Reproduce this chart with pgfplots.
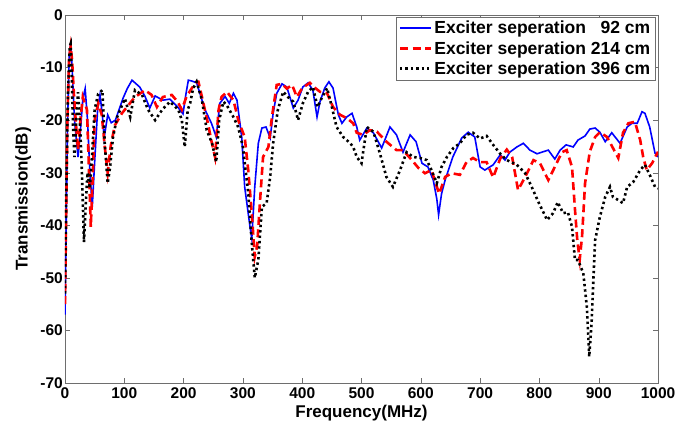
\documentclass[border=0pt]{standalone}
\usepackage{fontspec}
\setmainfont{Liberation Sans}
\usepackage{pgfplots}
\pgfplotsset{compat=1.18}
\definecolor{mblue}{RGB}{0,0,255}
\definecolor{mred}{RGB}{255,0,0}
\definecolor{frame}{RGB}{110,110,110}

\begin{document}
\begin{tikzpicture}
\useasboundingbox (-65pt,-40pt) rectangle (631pt,383pt);
\begin{axis}[
  scale only axis, width=593pt, height=368pt,
  xmin=0, xmax=1000, ymin=-70, ymax=0,
  xtick={0,100,...,1000}, ytick={-70,-60,...,0},
  xticklabels={0,100,200,300,400,500,600,700,800,900,1000},
  yticklabels={-70,-60,-50,-40,-30,-20,-10,0},
  tick align=inside, major tick length=5pt,
  axis line style={frame}, every tick/.style={frame},
  tick label style={font=\fontsize{15.5}{16}\selectfont\bfseries},
  xticklabel style={inner sep=1.5pt, yshift=-3pt},
  yticklabel style={inner sep=2pt},
  xlabel={Frequency(MHz)}, ylabel={Transmission(dB)},
  label style={font=\fontsize{17}{18}\selectfont\bfseries},
  xlabel style={inner sep=0pt, yshift=-5pt}, ylabel style={inner sep=0pt, yshift=7pt},
  legend style={at={(1,1)}, anchor=north east, xshift=-3pt, yshift=-2pt,
    draw=frame, font=\fontsize{17.5}{18.5}\selectfont\bfseries,
    inner xsep=2.5pt, inner ysep=2pt, row sep=2pt},
  legend cell align=left,
  legend image code/.code={\draw[#1] (0pt,0pt) -- (31pt,0pt);},
]
\addplot[mblue, line width=1.6pt] coordinates {
(0,-57)(2,-40)(4,-22)(7,-8)(9.5,-5.5)(12,-10)(16,-20)(22,-27)(26,-22)(30,-16)(34,-14)(38,-20)(42,-30)(46,-36.5)(50,-28)(55,-18)(59,-15.2)(63,-19)(66,-23.4)(72,-19)(78,-20.5)(85,-20)(98,-15.8)(105,-14)(113,-12.4)(126,-13.7)(135,-15.5)(143,-17.7)(152,-15.4)(165,-16.2)(177,-16)(190,-17.5)(199,-18.8)(204,-15)(208,-12.4)(215,-12.6)(222,-12.9)(236,-18)(247,-20.6)(255,-23.2)(261,-16.8)(270,-15.5)(277,-16.8)(284,-14.9)(290,-16.2)(298,-23.2)(303,-32.7)(312,-40.3)(315,-42.5)(320,-32.7)(326,-24.4)(332,-21.5)(339,-21.3)(346,-23.4)(351,-18.7)(357,-14.9)(366,-13.1)(374,-13.7)(385,-17.7)(393,-16.2)(401,-13.7)(410,-12.9)(418,-14.3)(425,-19.4)(430,-16.5)(438,-13.9)(445,-12.7)(452,-13.9)(461,-19)(467,-20.6)(475,-19.4)(484,-18.7)(492,-21.3)(497,-23.8)(509,-21.5)(520,-22.4)(534,-25.3)(548,-21.3)(559,-22.8)(570,-26.1)(582,-22.8)(592,-24.1)(602,-28.2)(612,-28.9)(621,-31.4)(627,-35)(630,-38)(635,-34)(641,-31.4)(654,-27)(669,-23.4)(680,-22.3)(691,-23.2)(700,-28.9)(708,-29.5)(722,-28.5)(734,-26.6)(742,-27.6)(750,-26.1)(762,-25.1)(773,-24.4)(784,-25.7)(796,-26.4)(804,-26.1)(815,-25.7)(826,-27.4)(835,-25.7)(845,-24.7)(857,-25.1)(865,-23.8)(877,-23)(885,-21.7)(894,-21.5)(902,-22.3)(911,-24.1)(922,-22.4)(936,-24.4)(948,-21.3)(956,-20.6)(965,-20.6)(973,-18.4)(978,-18.7)(986,-21.3)(995,-26.3)(1000,-27)
};
\addlegendentry{Exciter seperation \phantom{2}92 cm}
\addplot[mred, line width=2.6pt, dash pattern=on 8pt off 4.5pt] coordinates {
(0,-55)(2,-38)(4,-20)(7,-8)(9.5,-6)(12,-8.6)(15,-15)(18,-20)(22,-25.7)(26,-20)(30,-15.6)(34,-17)(37,-18)(40,-28)(43.5,-40.3)(47,-30)(50,-20)(56,-16.8)(62,-19)(67,-25)(72,-30)(77,-25)(84,-21)(96,-18.7)(108,-17)(118,-15.6)(135,-14.3)(146,-15.2)(155,-17.5)(165,-15.6)(180,-15.2)(190,-16.5)(197,-18)(205,-15.5)(214,-13.9)(222,-12.7)(225,-12.7)(231,-15.6)(241,-20.6)(247,-24)(253,-27)(259,-18)(264,-15.6)(273,-14.6)(284,-16.2)(293,-20.3)(303,-23.2)(309,-29.5)(315,-37.7)(320,-46)(324,-44)(329,-35.2)(334,-27)(343,-25.1)(349,-19.4)(357,-13.3)(366,-13.1)(374,-14)(383,-13.3)(391,-15.6)(400,-13.9)(413,-12.9)(422,-13.9)(430,-14.6)(442,-14.9)(452,-17.5)(464,-19)(475,-19.6)(486,-20.6)(492,-22.4)(503,-22.8)(514,-21.9)(526,-22.2)(542,-24.1)(559,-25.7)(570,-25.7)(585,-27.6)(596,-29.1)(607,-30.1)(618,-29.5)(625,-32)(631,-34)(641,-30.8)(652,-30.1)(666,-30.4)(677,-28)(688,-27.2)(700,-28)(711,-28)(722,-30.9)(734,-27.3)(745,-25.6)(754,-27)(764,-33.3)(776,-30.8)(790,-27.6)(801,-28.2)(815,-31.4)(826,-28.9)(838,-26.1)(846,-25.7)(855,-28.9)(860,-37)(864,-43)(868,-46.5)(872,-42)(877,-32)(885,-26)(894,-23.2)(902,-22.3)(914,-23.2)(924,-25.3)(933,-27.2)(941,-22.4)(950,-20.6)(961,-20.3)(970,-23.8)(975,-27)(981,-29.5)(990,-28.2)(1000,-26)
};
\addlegendentry{Exciter seperation 214 cm}
\addplot[black, line width=2.6pt, dash pattern=on 2.4pt off 3pt] coordinates {
(0,-53)(2,-35)(5,-15)(8,-6)(9.5,-5.5)(11,-10)(13.7,-22)(16,-27)(19,-20)(22,-14.7)(25,-20)(28,-28)(32,-43.2)(35,-36)(38,-30)(42,-33)(46,-26)(50,-18)(56,-15)(63,-14.3)(67,-24.4)(72,-32)(76,-29)(81,-23.2)(88,-19.4)(101,-15.9)(110,-19.4)(118,-14.3)(130,-15.2)(140,-18)(152,-20)(164,-18)(177,-16.5)(191,-18)(197,-20)(202,-25.1)(207,-18)(211,-16.8)(216,-14)(222,-12.7)(231,-16.2)(239,-21.9)(248,-24.4)(255,-28)(260,-20)(267,-16.5)(272,-17)(284,-19.4)(292,-21.3)(300,-25.1)(309,-33.9)(315,-43.4)(320,-50)(326,-46.6)(332,-36.5)(340,-35.8)(346,-30.8)(351,-24.4)(359,-18)(368,-14.6)(376,-15.6)(385,-16.5)(393,-20)(401,-16.8)(410,-14.6)(418,-13.7)(426,-17.5)(432,-16)(442,-13.9)(450,-17.5)(458,-21.3)(469,-23.2)(481,-24.4)(486,-25.1)(492,-27)(500,-28.2)(509,-21.3)(520,-22.2)(531,-26.3)(542,-30.8)(553,-32.7)(565,-29.5)(576,-26.1)(587,-27)(599,-27.2)(610,-27.6)(618,-29.5)(627,-32)(635,-28.9)(644,-27)(655,-25.3)(666,-24.4)(677,-22.8)(688,-22.4)(700,-23.5)(711,-23)(722,-24.7)(734,-26.4)(745,-27.6)(762,-28.5)(776,-30.1)(787,-32.7)(798,-35.5)(813,-39)(823,-37.7)(831,-35.6)(840,-37.7)(848,-37.5)(855,-40.3)(860,-46.6)(865,-46.6)(874,-49.1)(880,-55.5)(884,-65)(888,-58.6)(891,-50.4)(894,-42.8)(902,-38.4)(911,-34.6)(919,-32.7)(924,-34.6)(933,-35.2)(941,-35.8)(948,-32.7)(958,-31.8)(970,-29.5)(978,-28.5)(986,-30.4)(995,-32.7)(1000,-33)
};
\addlegendentry{Exciter seperation 396 cm}
\end{axis}
\end{tikzpicture}
\end{document}
